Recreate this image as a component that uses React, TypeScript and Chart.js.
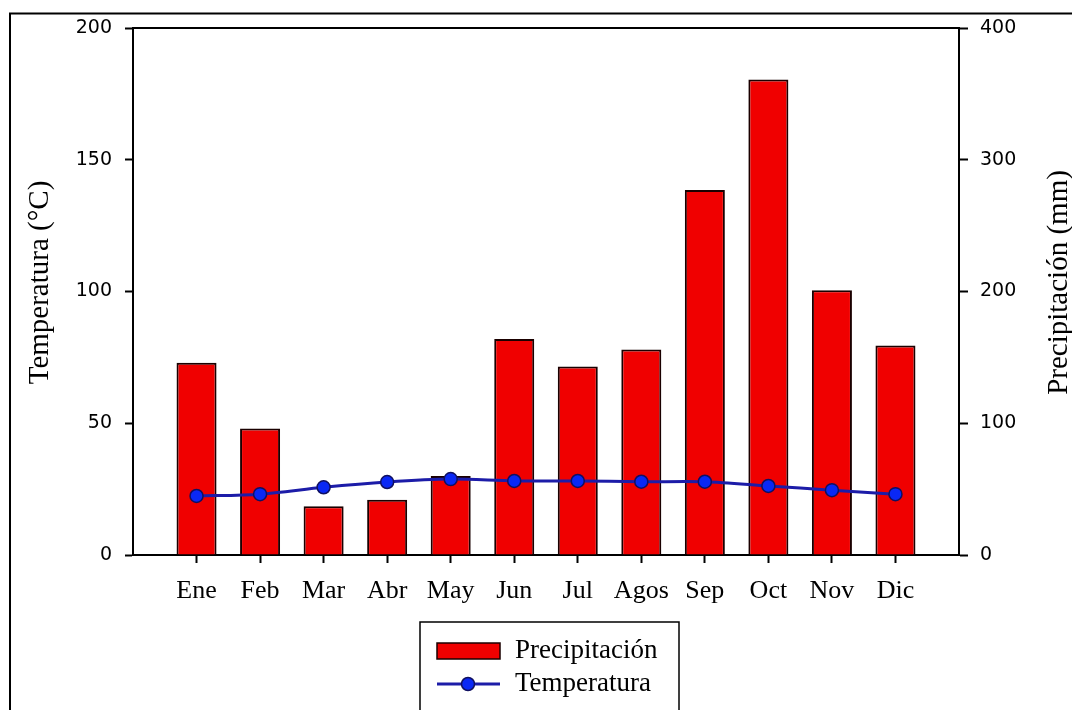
import React, { useEffect, useRef } from 'react';
import { Chart, registerables } from 'chart.js';

Chart.register(...registerables);

const months = ['Ene', 'Feb', 'Mar', 'Abr', 'May', 'Jun', 'Jul', 'Agos', 'Sep', 'Oct', 'Nov', 'Dic'];
const precipitacion = [146, 96, 37, 42, 60, 164, 143, 156, 277, 361, 201, 159];
const temperatura = [22.4, 23.1, 25.7, 27.7, 28.8, 28.1, 28.1, 27.8, 27.8, 26.2, 24.6, 23.1];
const tempAxisTitle = 'Temperatura (°C)';
const precAxisTitle = 'Precipitación (mm)';
const precLabel = 'Precipitación';
const tempLabel = 'Temperatura';

const SERIF = '"Liberation Serif", "Times New Roman", serif';
const SANS = '"DejaVu Sans", Verdana, sans-serif';

export default function App() {
  const ref = useRef<HTMLCanvasElement>(null);

  useEffect(() => {
    if (!ref.current) return;
    const labels = ['', ...months, ''];
    const pad = (a: number[]) => [null, ...a, null];
    const last = labels.length - 1;

    const decor = {
      id: 'decor',
      beforeDraw(chart: any) {
        const ctx = chart.ctx;
        ctx.save();
        ctx.fillStyle = '#ffffff';
        ctx.fillRect(0, 0, chart.width, chart.height);
        ctx.strokeStyle = '#000';
        ctx.lineWidth = 2;
        ctx.strokeRect(10, 13.5, chart.width + 20, chart.height + 20);
        ctx.restore();
      },
      afterDraw(chart: any) {
        const ctx = chart.ctx;
        const ca = chart.chartArea;
        ctx.save();
        // top border of plot box
        ctx.strokeStyle = '#000';
        ctx.lineWidth = 2;
        ctx.beginPath();
        ctx.moveTo(ca.left - 1, ca.top);
        ctx.lineTo(ca.right + 1, ca.top);
        ctx.stroke();

        // axis titles
        const midY = (ca.top + ca.bottom) / 2 - 9;
        ctx.fillStyle = '#000';
        ctx.font = `29px ${SERIF}`;
        ctx.textAlign = 'center';
        ctx.textBaseline = 'middle';
        ctx.save();
        ctx.translate(40, midY);
        ctx.rotate(-Math.PI / 2);
        ctx.fillText(tempAxisTitle, 0, 0);
        ctx.restore();
        ctx.save();
        ctx.translate(chart.width - 13, midY);
        ctx.rotate(-Math.PI / 2);
        ctx.fillText(precAxisTitle, 0, 0);
        ctx.restore();

        // legend
        const ds = chart.data.datasets;
        const cx = (ca.left + ca.right) / 2;
        const bx = cx - 126;
        const by = ca.bottom + 67;
        const bw = 259;
        ctx.lineWidth = 1.5;
        ctx.strokeStyle = '#000';
        ctx.strokeRect(bx, by, bw, chart.height - by + 20);

        const barDs = ds[0];
        ctx.fillStyle = barDs.backgroundColor;
        ctx.fillRect(bx + 17, by + 21, 63, 16);
        ctx.strokeStyle = barDs.borderColor;
        ctx.lineWidth = 1.5;
        ctx.strokeRect(bx + 17, by + 21, 63, 16);

        const lineDs = ds[1];
        const ly = by + 62;
        ctx.strokeStyle = lineDs.borderColor;
        ctx.lineWidth = 3;
        ctx.beginPath();
        ctx.moveTo(bx + 17, ly);
        ctx.lineTo(bx + 80, ly);
        ctx.stroke();
        ctx.beginPath();
        ctx.arc(bx + 48, ly, 6.5, 0, Math.PI * 2);
        ctx.fillStyle = lineDs.pointBackgroundColor;
        ctx.fill();
        ctx.lineWidth = 1.5;
        ctx.strokeStyle = lineDs.pointBorderColor;
        ctx.stroke();

        ctx.fillStyle = '#000';
        ctx.font = `27px ${SERIF}`;
        ctx.textAlign = 'left';
        ctx.textBaseline = 'middle';
        ctx.fillText(barDs.label, bx + 95, by + 29);
        ctx.fillText(lineDs.label, bx + 95, ly);
        ctx.restore();
      },
    };

    const chart = new Chart(ref.current, {
      type: 'bar',
      data: {
        labels,
        datasets: [
          {
            type: 'bar',
            label: precLabel,
            data: pad(precipitacion),
            yAxisID: 'y1',
            backgroundColor: '#f00000',
            borderColor: '#1a0000',
            borderWidth: 2,
            barPercentage: 0.63,
            categoryPercentage: 1,
            order: 1,
          } as any,
          {
            type: 'line',
            label: tempLabel,
            data: pad(temperatura),
            yAxisID: 'y',
            borderColor: '#1c1ca8',
            borderWidth: 3,
            tension: 0.3,
            spanGaps: false,
            pointRadius: 6.5,
            pointBackgroundColor: '#0a28f5',
            pointBorderColor: '#101060',
            pointBorderWidth: 1.5,
            order: 0,
          } as any,
        ],
      },
      options: {
        animation: false,
        responsive: false,
        devicePixelRatio: 1,
        layout: { padding: { top: 28, left: 0, right: 0, bottom: 0 } },
        plugins: {
          legend: { display: false },
          tooltip: { enabled: false },
        },
        scales: {
          x: {
            type: 'category',
            offset: false,
            grid: {
              offset: false,
              drawOnChartArea: false,
              tickLength: 8,
              tickWidth: 2,
              tickColor: (c: any) => (c.index === 0 || c.index === last ? 'rgba(0,0,0,0)' : '#000'),
            },
            border: { color: '#000', width: 2 },
            ticks: {
              autoSkip: false,
              maxRotation: 0,
              color: '#000',
              padding: 13,
              font: { family: SERIF, size: 26 },
            },
            afterFit: (s: any) => { s.height = 155; },
          },
          y: {
            position: 'left',
            min: 0,
            max: 200,
            grid: { drawOnChartArea: false, tickLength: 8, tickWidth: 2, tickColor: '#000' },
            border: { color: '#000', width: 2 },
            ticks: { stepSize: 50, color: '#000', padding: 13, font: { family: SANS, size: 19 } },
            afterFit: (s: any) => { s.width = 133; },
          },
          y1: {
            position: 'right',
            min: 0,
            max: 400,
            grid: { drawOnChartArea: false, tickLength: 9, tickWidth: 2, tickColor: '#000' },
            border: { color: '#000', width: 2 },
            ticks: { stepSize: 100, color: '#000', padding: 12, font: { family: SANS, size: 19 } },
            afterFit: (s: any) => { s.width = 113; },
          },
        },
      } as any,
      plugins: [decor],
    });
    return () => chart.destroy();
  }, []);

  return (
    <div style={{ position: 'fixed', left: 0, top: 0, width: 1072, height: 710, background: '#fff', overflow: 'hidden' }}>
      <canvas ref={ref} width={1072} height={710} style={{ display: 'block', width: 1072, height: 710 }} />
    </div>
  );
}
